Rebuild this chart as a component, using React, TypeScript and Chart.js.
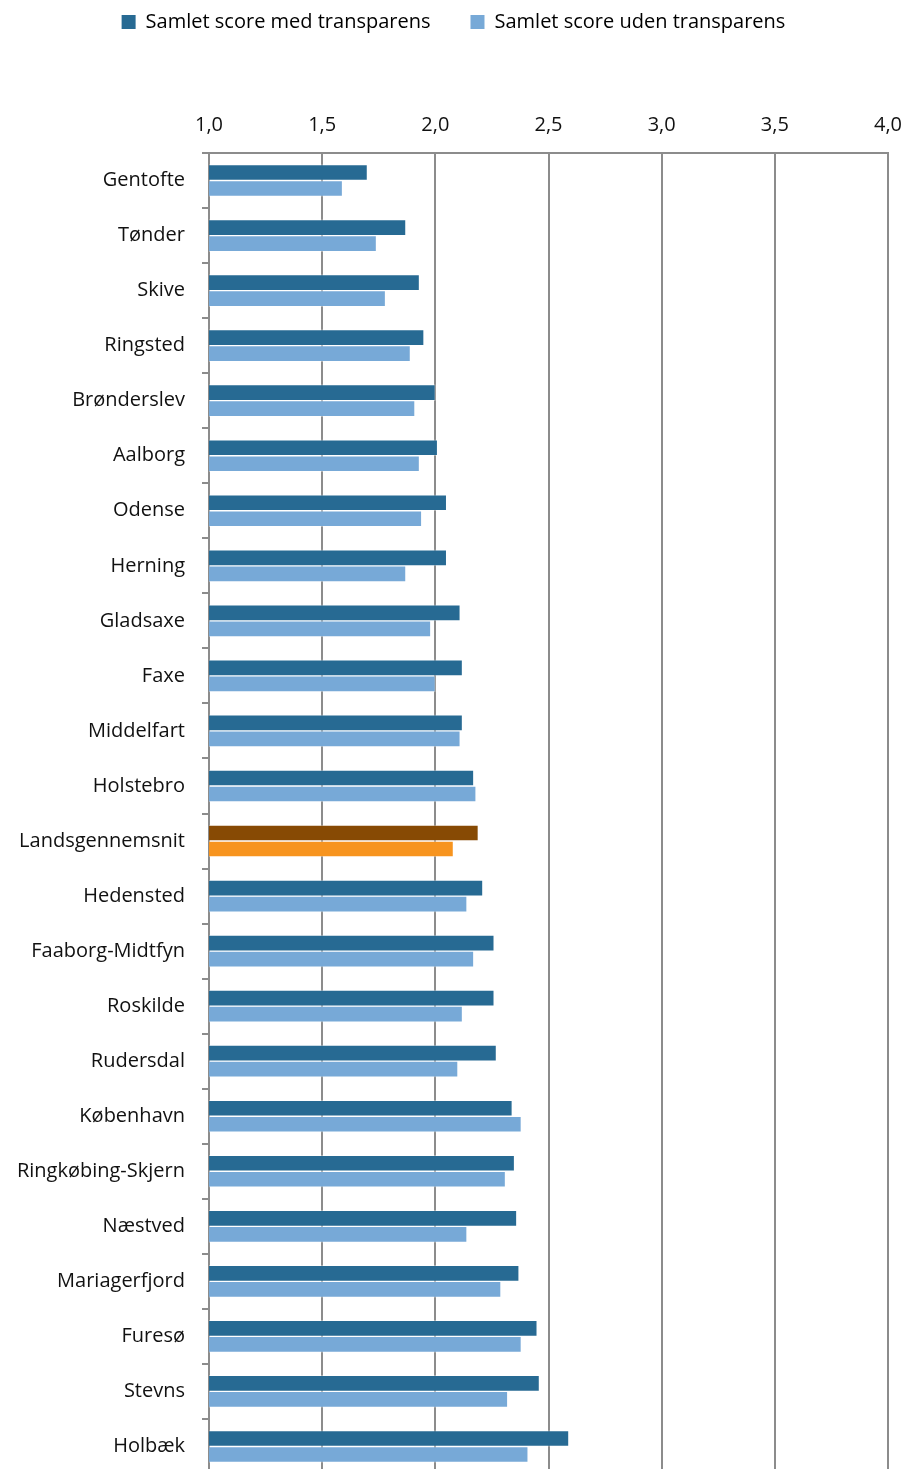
import { useEffect, useRef } from "react"
import { Chart, registerables } from "chart.js"

Chart.register(...registerables)

const kommuner = [
  "Gentofte", "Tønder", "Skive", "Ringsted", "Brønderslev", "Aalborg", "Odense", "Herning",
  "Gladsaxe", "Faxe", "Middelfart", "Holstebro", "Landsgennemsnit", "Hedensted", "Faaborg-Midtfyn",
  "Roskilde", "Rudersdal", "København", "Ringkøbing-Skjern", "Næstved", "Mariagerfjord", "Furesø",
  "Stevns", "Holbæk",
]

const medTransparens = [
  1.70, 1.87, 1.93, 1.95, 2.00, 2.01, 2.05, 2.05, 2.11, 2.12, 2.12, 2.17, 2.19, 2.21, 2.26,
  2.26, 2.27, 2.34, 2.35, 2.36, 2.37, 2.45, 2.46, 2.59,
]

const udenTransparens = [
  1.59, 1.74, 1.78, 1.89, 1.91, 1.93, 1.94, 1.87, 1.98, 2.00, 2.11, 2.18, 2.08, 2.14, 2.17,
  2.12, 2.10, 2.38, 2.31, 2.14, 2.29, 2.38, 2.32, 2.41,
]

const DARK = "#276a93"
const LIGHT = "#77a9d7"
const AVG_DARK = "#874a04"
const AVG_LIGHT = "#f7941e"
const GRID = "#8c8c8c"
const FONT = "'Open Sans', Lato, sans-serif"

// push the plot down below the legend
const legendSpacer = {
  id: "legendSpacer",
  beforeInit(chart: any) {
    const origFit = chart.legend.fit
    chart.legend.fit = function () {
      origFit.bind(chart.legend)()
      this.height += 55
    }
  },
}

export default function App() {
  const chartRef = useRef<HTMLCanvasElement | null>(null)

  useEffect(() => {
    if (!chartRef.current) return
    const ctx = chartRef.current.getContext("2d")
    if (!ctx) return

    const isAvg = (i: number) => kommuner[i] === "Landsgennemsnit"

    const myChart = new Chart(ctx, {
      type: "bar",
      data: {
        labels: kommuner,
        datasets: [
          {
            label: "Samlet score med transparens",
            data: medTransparens,
            backgroundColor: kommuner.map((_, i) => (isAvg(i) ? AVG_DARK : DARK)),
            borderColor: "rgba(255,255,255,0.35)",
            borderWidth: 1,
            barThickness: 16,
          },
          {
            label: "Samlet score uden transparens",
            data: udenTransparens,
            backgroundColor: kommuner.map((_, i) => (isAvg(i) ? AVG_LIGHT : LIGHT)),
            borderColor: "rgba(255,255,255,0.35)",
            borderWidth: 1,
            barThickness: 16,
          },
        ],
      },
      options: {
        indexAxis: "y",
        animation: false,
        responsive: true,
        maintainAspectRatio: false,
        layout: { padding: { top: -28, right: 0, left: 0, bottom: 0 } },
        plugins: {
          legend: {
            position: "top",
            labels: {
              boxWidth: 14,
              boxHeight: 14,
              padding: 40,
              color: "#111",
              font: { family: FONT, size: 20 },
              generateLabels: () => [
                { text: "Samlet score med transparens", fillStyle: DARK, strokeStyle: DARK, lineWidth: 0, datasetIndex: 0 },
                { text: "Samlet score uden transparens", fillStyle: LIGHT, strokeStyle: LIGHT, lineWidth: 0, datasetIndex: 1 },
              ],
            },
          },
          tooltip: { enabled: false },
        },
        scales: {
          x: {
            position: "top",
            min: 1,
            max: 4,
            afterFit: (scale: any) => {
              scale.paddingRight = 19
            },
            ticks: {
              stepSize: 0.5,
              padding: 16,
              color: "#111",
              font: { family: FONT, size: 20 },
              callback: (v: any) => Number(v).toFixed(1).replace(".", ","),
            },
            grid: { color: GRID, lineWidth: 2, drawTicks: false },
            border: { color: GRID, width: 2 },
          },
          y: {
            afterFit: (scale: any) => {
              scale.width = 209
            },
            ticks: {
              padding: 17,
              color: "#111",
              font: { family: FONT, size: 20 },
            },
            grid: { offset: true, drawOnChartArea: false, color: GRID, lineWidth: 2, tickLength: 7 },
            border: { color: GRID, width: 2 },
          },
        },
      },
      plugins: [legendSpacer],
    })

    return () => {
      myChart.destroy()
    }
  }, [])

  return (
    <div style={{ position: "absolute", left: 0, top: 0, width: 907, height: 1503, background: "#fff" }}>
      <canvas ref={chartRef} />
    </div>
  )
}
